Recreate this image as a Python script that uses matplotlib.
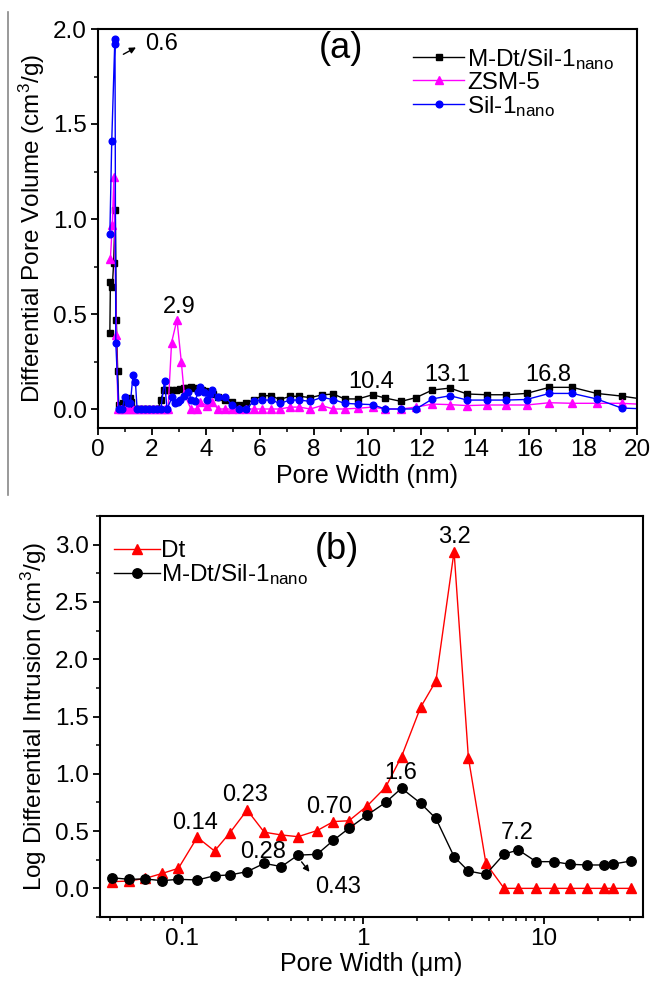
import matplotlib
matplotlib.use("Agg")
import matplotlib.pyplot as plt
from matplotlib.ticker import MultipleLocator, FixedLocator, FixedFormatter, NullFormatter, LogLocator, FormatStrFormatter
from matplotlib.lines import Line2D

plt.rcParams['font.family'] = ['Liberation Sans', 'DejaVu Sans']
plt.rcParams['mathtext.fontset'] = 'custom'
plt.rcParams['mathtext.rm'] = 'Liberation Sans'
plt.rcParams['mathtext.it'] = 'Liberation Sans:italic'
plt.rcParams['mathtext.bf'] = 'Liberation Sans:bold'

# ---------------- Panel (a) data ----------------
mdt_a_x = [0.44, 0.46, 0.53, 0.58, 0.64, 0.68, 0.73, 0.77, 0.84, 0.92, 1.0, 1.1, 1.17, 1.24,
           1.3, 1.43, 1.56, 1.7, 1.83, 1.96, 2.1, 2.23, 2.33, 2.45, 2.6, 2.75, 2.9, 3.03,
           3.18, 3.3, 3.45, 3.58, 3.72, 3.85, 3.98, 4.12, 4.25, 4.46, 4.72, 4.97, 5.24,
           5.5, 5.8, 6.1, 6.43, 6.74, 7.14, 7.47, 7.88, 8.3, 8.73, 9.15, 9.65, 10.19,
           10.65, 11.25, 11.8, 12.41, 13.06, 13.7, 14.43, 15.13, 15.9, 16.75, 17.6, 18.5,
           19.43, 20.4]
mdt_a_y = [0.40, 0.67, 0.64, 0.77, 1.05, 0.47, 0.20, 0.02, 0.0, 0.03, 0.03, 0.05, 0.06, 0.035,
           0.0, 0.0, 0.0, 0.0, 0.0, 0.0, 0.0, 0.0, 0.05, 0.10, 0.10, 0.10, 0.10, 0.105,
           0.11, 0.11, 0.115, 0.11, 0.105, 0.10, 0.095, 0.09, 0.08, 0.065, 0.05, 0.035, 0.02,
           0.03, 0.05, 0.07, 0.07, 0.05, 0.067, 0.067, 0.06, 0.074, 0.079, 0.053, 0.053, 0.075,
           0.058, 0.04, 0.06, 0.10, 0.11, 0.079, 0.075, 0.075, 0.082, 0.114, 0.114, 0.082,
           0.068, 0.048]

zsm_x = [0.46, 0.53, 0.59, 0.68, 0.74, 0.85, 1.0, 1.15, 1.3, 1.45, 1.6, 1.75, 1.9, 2.05,
         2.2, 2.35, 2.48, 2.6, 2.73, 2.93, 3.09, 3.2, 3.45, 3.66, 3.8, 4.05, 4.24, 4.46,
         4.72, 4.97, 5.24, 5.5, 5.8, 6.1, 6.43, 6.74, 7.14, 7.47, 7.88, 8.3, 8.73, 9.15,
         9.65, 10.19, 10.65, 11.25, 11.8, 12.41, 13.06, 13.7, 14.43, 15.13, 15.9, 16.75,
         17.6, 18.5, 19.43, 20.4]
zsm_y = [0.79, 0.97, 1.22, 0.39, 0.0, 0.0, 0.0, 0.0, 0.0, 0.0, 0.0, 0.0, 0.0, 0.0,
         0.0, 0.0, 0.0, 0.0, 0.35, 0.47, 0.25, 0.08, 0.0, 0.0, 0.035, 0.018, 0.035, 0.0,
         0.0, 0.0, 0.0, 0.0, 0.0, 0.0, 0.0, 0.0, 0.01, 0.01, 0.0, 0.018, 0.0, 0.0,
         0.004, 0.01, 0.0, 0.0, 0.01, 0.026, 0.023, 0.018, 0.021, 0.021, 0.021, 0.033,
         0.03, 0.03, 0.03, 0.023]

sil_x = [0.44, 0.51, 0.62, 0.63, 0.66, 0.77, 0.9, 1.0, 1.1, 1.2, 1.3, 1.39, 1.45, 1.6,
         1.75, 1.9, 2.05, 2.2, 2.33, 2.47, 2.56, 2.76, 2.85, 2.95, 3.05, 3.2, 3.35, 3.46,
         3.6, 3.72, 3.8, 3.95, 4.05, 4.15, 4.24, 4.46, 4.72, 4.97, 5.24, 5.5, 5.8, 6.1,
         6.43, 6.74, 7.14, 7.47, 7.88, 8.3, 8.73, 9.15, 9.65, 10.19, 10.65, 11.25, 11.8,
         12.41, 13.06, 13.7, 14.43, 15.13, 15.9, 16.75, 17.6, 18.5, 19.43, 20.4]
sil_y = [0.92, 1.41, 1.92, 1.95, 0.35, 0.0, 0.0, 0.065, 0.03, 0.03, 0.18, 0.14, 0.0, 0.0,
         0.0, 0.0, 0.0, 0.0, 0.0, 0.15, 0.0, 0.065, 0.03, 0.035, 0.045, 0.07, 0.09, 0.05,
         0.04, 0.09, 0.114, 0.09, 0.05, 0.08, 0.10, 0.065, 0.065, 0.02, 0.0, 0.0, 0.044, 0.047,
         0.047, 0.03, 0.047, 0.047, 0.04, 0.061, 0.05, 0.03, 0.026, 0.023, 0.0, 0.0, 0.0,
         0.053, 0.07, 0.047, 0.047, 0.047, 0.05, 0.082, 0.082, 0.053, 0.005, 0.0]

# ---------------- Panel (b) data ----------------
b_x = [0.041, 0.051, 0.063, 0.078, 0.096, 0.122, 0.152, 0.185, 0.23, 0.286, 0.356, 0.439,
       0.56, 0.69, 0.84, 1.06, 1.34, 1.64, 2.09, 2.54, 3.2, 3.84, 4.8, 6.05, 7.26, 9.09,
       11.4, 14.0, 17.4, 21.5, 24.3, 30.5]
dt_y = [0.058, 0.064, 0.087, 0.13, 0.175, 0.446, 0.326, 0.486, 0.684, 0.49, 0.466, 0.451,
        0.504, 0.583, 0.59, 0.72, 0.883, 1.15, 1.58, 1.81, 2.94, 1.14, 0.218, 0.0, 0.0, 0.0,
        0.0, 0.0, 0.0, 0.0, 0.0, 0.0]
mdt_b_y = [0.093, 0.079, 0.082, 0.067, 0.079, 0.073, 0.11, 0.117, 0.146, 0.218, 0.19, 0.29,
           0.297, 0.42, 0.524, 0.64, 0.75, 0.874, 0.743, 0.61, 0.277, 0.151, 0.122, 0.30,
           0.335, 0.233, 0.233, 0.21, 0.204, 0.204, 0.213, 0.239]

label_mdt = 'M-Dt/Sil-1$_{\\mathregular{nano}}$'
label_sil = 'Sil-1$_{\\mathregular{nano}}$'

W, H = 651, 981
fig = plt.figure(figsize=(W / 100, H / 100), dpi=100)

def fx(px):
    return px / W

def fy(py):
    return 1 - py / H

ax1 = fig.add_axes([fx(98), fy(428), fx(637) - fx(98), fy(29) - fy(428)])
ax2 = fig.add_axes([fx(100), fy(917), fx(643) - fx(100), fy(516) - fy(917)])

tick_fs = 17.5
xlab_fs = 18
ylab_fs = 17.5
ann_fs = 17
leg_fs = 17.5

for ax in (ax1, ax2):
    for s in ax.spines.values():
        s.set_linewidth(1.5)
    ax.tick_params(which='major', direction='out', length=5, width=1.3, labelsize=tick_fs,
                   top=False, right=False, pad=3)
    ax.tick_params(which='minor', direction='out', length=3, width=1.1, top=False, right=False)

# Panel (a)
ax1.plot(mdt_a_x, mdt_a_y, color='black', lw=1.0, marker='s', ms=4.6, label=label_mdt)
ax1.plot(zsm_x, zsm_y, color='#FF00FF', lw=1.0, marker='^', ms=5.2, label='ZSM-5')
ax1.plot(sil_x, sil_y, color='#0000FF', lw=1.0, marker='o', ms=4.8, label=label_sil)
ax1.set_xlim(0, 20)
ax1.set_ylim(-0.1, 2.0)
ax1.xaxis.set_major_locator(MultipleLocator(2))
ax1.xaxis.set_minor_locator(MultipleLocator(1))
ax1.yaxis.set_major_locator(MultipleLocator(0.5))
ax1.yaxis.set_minor_locator(MultipleLocator(0.25))
ax1.yaxis.set_major_formatter(FormatStrFormatter('%.1f'))
ax1.set_xlabel('Pore Width (nm)', fontsize=xlab_fs, labelpad=2)
ax1.set_ylabel('Differential Pore Volume (cm$^{\\mathregular{3}}$/g)', fontsize=ylab_fs, labelpad=4)

leg1 = ax1.legend(loc='upper left', bbox_to_anchor=(0.585, 0.955), frameon=False,
                  fontsize=leg_fs, handlelength=2.1, handletextpad=0.12, labelspacing=0.0,
                  borderpad=0, borderaxespad=0)

ax1.text(9.0, 1.90, '(a)', fontsize=26, ha='center', va='center')
ax1.annotate('', xy=(1.5, 1.91), xytext=(0.85, 1.86),
             arrowprops=dict(arrowstyle='-|>', color='black', lw=1.0, mutation_scale=9))
ax1.text(2.35, 1.92, '0.6', fontsize=ann_fs, ha='center', va='center')
ax1.text(3.02, 0.535, '2.9', fontsize=ann_fs, ha='center', va='center')
ax1.text(10.12, 0.14, '10.4', fontsize=ann_fs, ha='center', va='center')
ax1.text(12.97, 0.18, '13.1', fontsize=ann_fs, ha='center', va='center')
ax1.text(16.72, 0.18, '16.8', fontsize=ann_fs, ha='center', va='center')

# Panel (b)
ax2.plot(b_x, dt_y, color='#FF0000', lw=1.0, marker='^', ms=7.2, label='Dt')
ax2.plot(b_x, mdt_b_y, color='black', lw=1.0, marker='o', ms=6.8, label=label_mdt)
ax2.set_xscale('log')
ax2.set_xlim(0.0354, 35.4)
ax2.set_ylim(-0.25, 3.25)
ax2.xaxis.set_major_locator(FixedLocator([0.1, 1, 10]))
ax2.xaxis.set_major_formatter(FixedFormatter(['0.1', '1', '10']))
ax2.xaxis.set_minor_locator(LogLocator(base=10, subs=[2, 3, 4, 5, 6, 7, 8, 9]))
ax2.xaxis.set_minor_formatter(NullFormatter())
ax2.yaxis.set_major_locator(MultipleLocator(0.5))
ax2.yaxis.set_minor_locator(MultipleLocator(0.25))
ax2.yaxis.set_major_formatter(FormatStrFormatter('%.1f'))
ax2.set_xlabel('Pore Width (\u03bcm)', fontsize=xlab_fs, labelpad=1)
ax2.set_ylabel('Log Differential Intrusion (cm$^{\\mathregular{3}}$/g)', fontsize=ylab_fs, labelpad=4)

leg2 = ax2.legend(loc='upper left', bbox_to_anchor=(0.025, 0.94), frameon=False,
                  fontsize=leg_fs, handlelength=1.9, handletextpad=0.05, labelspacing=0.0,
                  borderpad=0, borderaxespad=0)

ax2.text(0.72, 2.96, '(b)', fontsize=26, ha='center', va='center')
ax2.text(3.2, 3.07, '3.2', fontsize=ann_fs, ha='center', va='center')
ax2.text(0.119, 0.57, '0.14', fontsize=ann_fs, ha='center', va='center')
ax2.text(0.224, 0.816, '0.23', fontsize=ann_fs, ha='center', va='center')
ax2.text(0.282, 0.32, '0.28', fontsize=ann_fs, ha='center', va='center')
ax2.text(0.65, 0.714, '0.70', fontsize=ann_fs, ha='center', va='center')
ax2.text(1.62, 1.005, '1.6', fontsize=ann_fs, ha='center', va='center')
ax2.text(7.15, 0.48, '7.2', fontsize=ann_fs, ha='center', va='center')
ax2.text(0.736, 0.015, '0.43', fontsize=ann_fs, ha='center', va='center')
ax2.annotate('', xy=(0.52, 0.125), xytext=(0.45, 0.25),
             arrowprops=dict(arrowstyle='-|>', color='black', lw=1.0, mutation_scale=9))

# gray crop line at left edge
fig.add_artist(Line2D([fx(8), fx(8)], [fy(12), fy(495)], color='#888888', lw=1.2))

fig.savefig('out.png', dpi=100)
